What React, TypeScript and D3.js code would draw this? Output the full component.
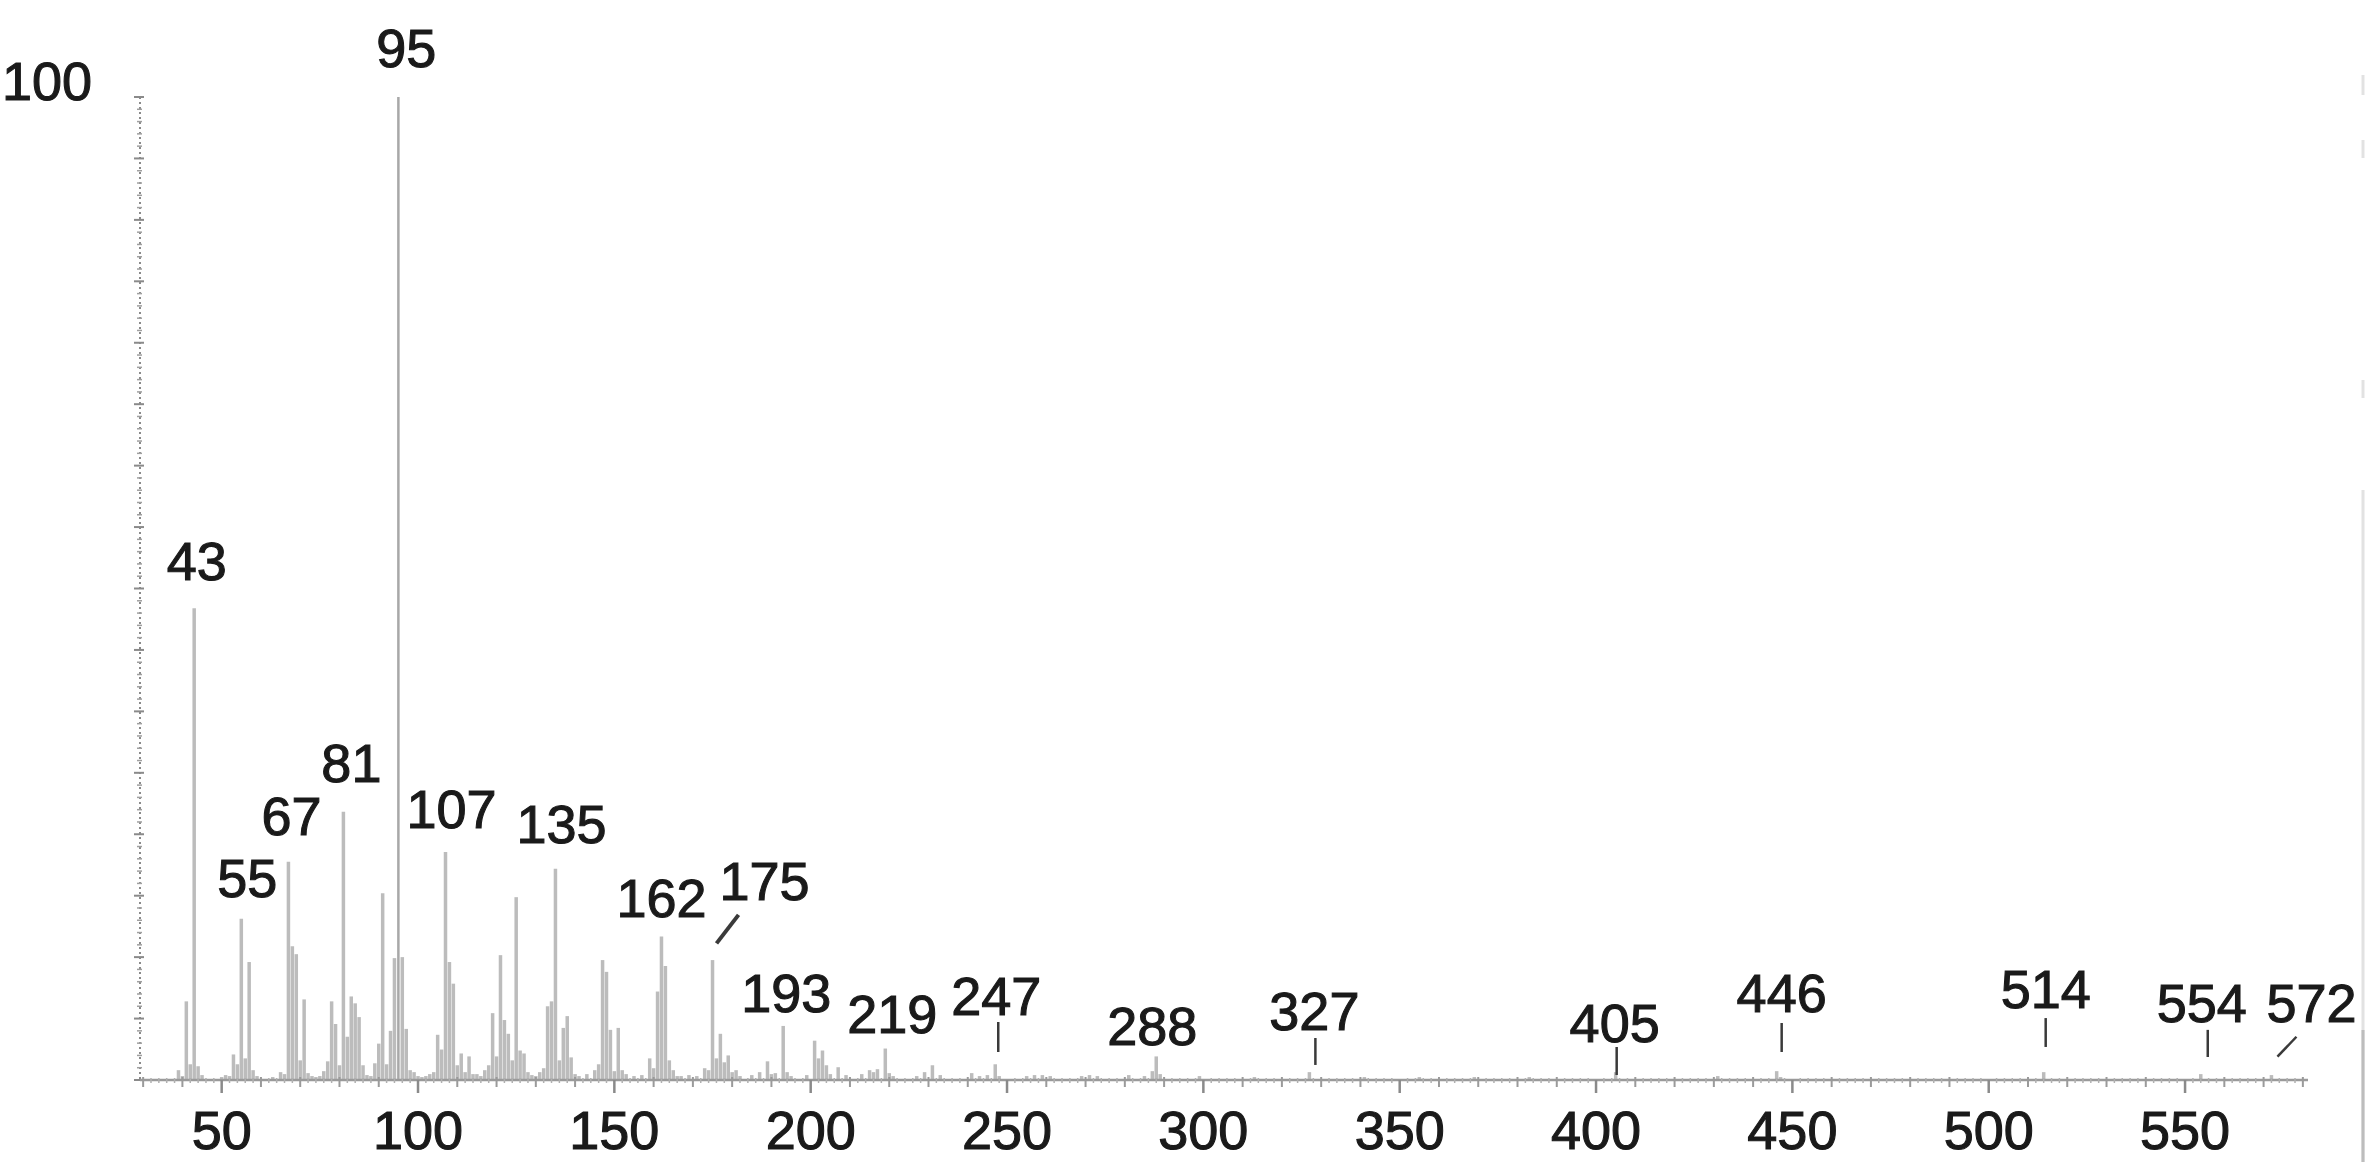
import React from 'react';
import * as d3 from 'd3';

// ---- data ----
const mzValues = [
  39, 40, 41, 42, 43, 44, 45, 50, 51, 52, 53, 54, 55, 56, 57, 58, 59, 63, 65, 66,
  67, 68, 69, 70, 71, 72, 73, 74, 75, 76, 77, 78, 79, 80, 81, 82, 83, 84, 85, 86,
  87, 88, 89, 90, 91, 92, 93, 94, 95, 96, 97, 98, 99, 100, 101, 102, 103, 104, 105, 106,
  107, 108, 109, 110, 111, 112, 113, 114, 115, 116, 117, 118, 119, 120, 121, 122, 123, 124, 125, 126,
  127, 128, 129, 130, 131, 132, 133, 134, 135, 136, 137, 138, 139, 140, 141, 143, 145, 146, 147, 148,
  149, 150, 151, 152, 153, 155, 157, 159, 160, 161, 162, 163, 164, 165, 166, 167, 169, 171, 173, 174,
  175, 176, 177, 178, 179, 180, 181, 182, 185, 187, 189, 190, 191, 193, 194, 195, 199, 201, 202, 203,
  204, 205, 207, 209, 213, 215, 216, 217, 219, 220, 221, 227, 229, 231, 233, 241, 243, 245, 247, 248,
  255, 257, 259, 261, 269, 271, 273, 281, 285, 287, 288, 289, 299, 313, 327, 341, 355, 369, 383, 405,
  431, 446, 447, 514, 554, 572,
];
const intensities = [
  1.0, 0.4, 8.0, 1.6, 48.0, 1.4, 0.5, 0.3, 0.5, 0.4, 2.6, 1.6, 16.4, 2.2, 12.0, 1.0, 0.4, 0.3, 0.8, 0.6,
  22.2, 13.6, 12.8, 2.0, 8.2, 0.7, 0.4, 0.3, 0.4, 0.9, 1.9, 8.0, 5.7, 1.5, 27.3, 4.4, 8.5, 7.8, 6.4, 1.5,
  0.5, 0.4, 1.7, 3.7, 19.0, 1.6, 5.0, 12.4, 100, 12.5, 5.2, 1.0, 0.8, 0.4, 0.3, 0.4, 0.6, 0.8, 4.6, 3.1,
  23.2, 12.0, 9.8, 1.5, 2.7, 0.8, 2.4, 0.6, 0.6, 0.4, 1.0, 1.5, 6.8, 2.4, 12.7, 6.1, 4.7, 2.0, 18.6, 3.0,
  2.7, 0.8, 0.5, 0.4, 0.8, 1.2, 7.5, 8.0, 21.5, 2.0, 5.3, 6.5, 2.3, 0.6, 0.4, 0.6, 1.0, 1.6, 12.2, 11.0,
  5.1, 0.9, 5.3, 1.0, 0.6, 0.4, 0.5, 2.2, 1.2, 9.0, 14.6, 11.6, 2.0, 1.0, 0.4, 0.4, 0.5, 0.4, 1.2, 1.0,
  12.2, 2.2, 4.7, 1.8, 2.5, 0.8, 1.0, 0.4, 0.5, 0.8, 1.9, 0.6, 0.7, 5.5, 0.8, 0.4, 0.5, 4.0, 2.2, 3.0,
  1.5, 0.6, 1.3, 0.5, 0.6, 1.0, 0.8, 1.1, 3.2, 0.7, 0.4, 0.4, 0.8, 1.5, 0.5, 0.7, 0.4, 0.5, 1.6, 0.4,
  0.4, 0.5, 0.5, 0.4, 0.4, 0.5, 0.4, 0.5, 0.4, 0.9, 2.4, 0.6, 0.4, 0.3, 0.8, 0.3, 0.3, 0.3, 0.3, 0.8,
  0.4, 0.9, 0.3, 0.8, 0.6, 0.5,
];
const labelMz = [43, 55, 67, 81, 95, 107, 135, 162, 175, 193, 219, 247, 288, 327, 405, 446, 514, 554, 572];
const xTickLabels = [50, 100, 150, 200, 250, 300, 350, 400, 450, 500, 550];
const yTickLabel = '100';

// ---- layout (kept apart from data) ----
// label: horizontal nudge in px, baseline level in intensity units
const labelLayout = [
  { dx: 2.5, level: 50.9 }, { dx: 6, level: 18.6 }, { dx: 3, level: 24.9 }, { dx: 8, level: 30.3 },
  { dx: 8, level: 103.1 }, { dx: 6, level: 25.6 }, { dx: 6, level: 24.1 }, { dx: 0, level: 16.6 },
  { dx: 52, level: 18.3 }, { dx: 3, level: 6.9 }, { dx: 7, level: 4.8 }, { dx: 1, level: 6.6 },
  { dx: -4, level: 3.6 }, { dx: 5, level: 5.1 }, { dx: -1, level: 3.9 }, { dx: 5, level: 6.9 },
  { dx: 2, level: 7.3 }, { dx: 1, level: 5.9 }, { dx: 40, level: 5.9 },
];
// leader marks: [mz, dx1, level1, dx2, level2]
const leaderLayout: [number, number, number, number, number][] = [
  [175, 4, 13.9, 26, 16.8],
  [247, 3, 5.9, 3, 2.85],
  [327, 6, 4.27, 6, 1.53],
  [405, 1, 3.36, 1, 0.51],
  [446, 5, 5.8, 5, 2.85],
  [514, 2, 6.3, 2, 3.36],
  [554, 7, 5.1, 7, 2.34],
  [572, 6, 2.37, 25, 4.4],
];

const W = 2366;
const H = 1162;
const FONT = '"Liberation Sans", Arial, Helvetica, sans-serif';

export default function App() {
  const x = d3.scaleLinear().domain([29.2, 580.8]).range([140, 2306]);
  const y = d3.scaleLinear().domain([0, 100]).range([1080, 97]);

  const peaks = mzValues.map((m, i) => ({ m, v: intensities[i] }));
  const xMajor = xTickLabels;
  const xMinor = d3.range(30, 581, 10).filter((v) => v % 50 !== 0);
  const xMicro = d3.range(30, 581, 2).filter((v) => v % 10 !== 0);
  const yMajor = d3.range(0, 100.001, 6.25);
  const yMinor = d3.range(0, 100.001, 1.25).filter((v) => Math.abs(v / 6.25 - Math.round(v / 6.25)) > 1e-6);
  const fs = 54;
  const textStyle = { fill: '#1a1a1a', stroke: '#1a1a1a', strokeWidth: 1.1 } as const;

  return (
    <svg
      width={W}
      height={H}
      style={{ position: 'absolute', left: 0, top: 0, background: '#fff' }}
      fontFamily={FONT}
    >
      <rect x={0} y={0} width={W} height={H} fill="#fff" />

      {/* right edge scan line */}
      <g stroke="#e2e2e2" strokeWidth={3}>
        <line x1={2363} x2={2363} y1={75} y2={95} />
        <line x1={2363} x2={2363} y1={140} y2={158} />
        <line x1={2363} x2={2363} y1={380} y2={398} />
        <line x1={2363} x2={2363} y1={490} y2={1162} />
      </g>
      <line x1={2363} x2={2363} y1={1030} y2={1162} stroke="#bdbdbd" strokeWidth={3} />

      {/* y axis: dotted line with ticks */}
      <line x1={140} x2={140} y1={y(100)} y2={y(0)} stroke="#8a8a8a" strokeWidth={2} strokeDasharray="2 3" />
      {yMajor.map((v) => (
        <line key={'ym' + v} x1={134} x2={144} y1={y(v)} y2={y(v)} stroke="#8a8a8a" strokeWidth={2} />
      ))}
      {yMinor.map((v) => (
        <line key={'yn' + v} x1={137} x2={142} y1={y(v)} y2={y(v)} stroke="#a0a0a0" strokeWidth={1.5} />
      ))}
      <text x={92} y={100} fontSize={fs} textAnchor="end" {...textStyle}>
        {yTickLabel}
      </text>

      {/* peaks */}
      {peaks.map((p) => (
        <line
          key={'p' + p.m}
          x1={x(p.m)}
          x2={x(p.m)}
          y1={y(0)}
          y2={y(p.v)}
          stroke={p.v >= 90 ? '#a8a8a8' : '#bcbcbc'}
          strokeWidth={p.v >= 90 ? 2.5 : 3.5}
        />
      ))}

      {/* x axis */}
      <line x1={140} x2={2308} y1={y(0)} y2={y(0)} stroke="#9a9a9a" strokeWidth={2.5} />
      {xMicro.map((v) => (
        <line key={'xu' + v} x1={x(v)} x2={x(v)} y1={y(0) - 2} y2={y(0) + 3} stroke="#b0b0b0" strokeWidth={1.5} />
      ))}
      {xMinor.map((v) => (
        <line key={'xn' + v} x1={x(v)} x2={x(v)} y1={y(0) - 3} y2={y(0) + 7} stroke="#9a9a9a" strokeWidth={2} />
      ))}
      {xMajor.map((v) => (
        <line key={'xm' + v} x1={x(v)} x2={x(v)} y1={y(0)} y2={y(0) + 13} stroke="#8a8a8a" strokeWidth={2.5} />
      ))}
      {xTickLabels.map((v) => (
        <text key={'xl' + v} x={x(v)} y={1149} fontSize={fs} textAnchor="middle" {...textStyle}>
          {v}
        </text>
      ))}

      {/* leaders */}
      {leaderLayout.map(([m, dx1, l1, dx2, l2]) => (
        <line
          key={'ld' + m}
          x1={x(m) + dx1}
          x2={x(m) + dx2}
          y1={y(l1)}
          y2={y(l2)}
          stroke="#3a3a3a"
          strokeWidth={m === 175 ? 4 : 2.5}
        />
      ))}

      {/* peak labels */}
      {labelMz.map((m, i) => (
        <text
          key={'lb' + m}
          x={x(m) + labelLayout[i].dx}
          y={y(labelLayout[i].level)}
          fontSize={fs}
          textAnchor="middle"
          {...textStyle}
        >
          {m}
        </text>
      ))}
    </svg>
  );
}
